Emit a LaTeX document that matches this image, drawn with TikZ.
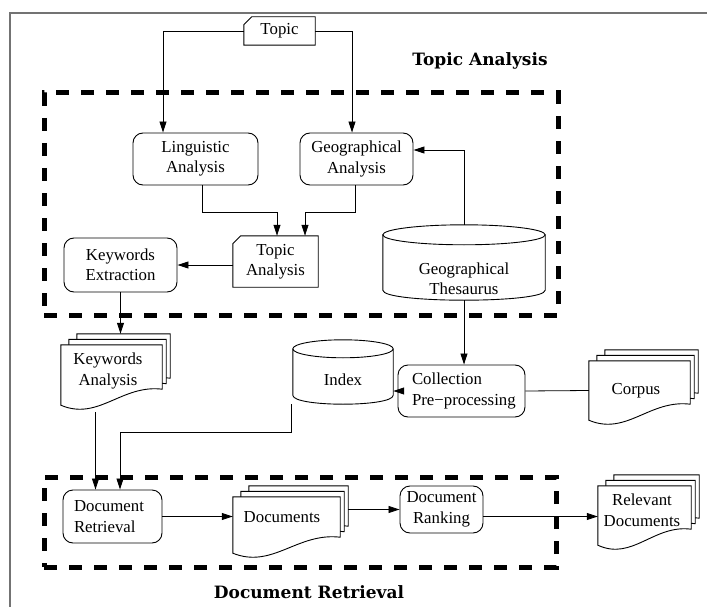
\documentclass[tikz,border=0pt]{standalone}
\usepackage{fontspec}
\setmainfont{Liberation Serif}
\newfontfamily\headfont{DejaVu Serif}
\usetikzlibrary{arrows.meta,calc,backgrounds}

\tikzset{
  every node/.style={font=\fontsize{16.8}{20.5}\selectfont},
  box/.style={draw, rounded corners=10pt, line width=0.9pt, align=center, inner sep=0pt},
  plain/.style={align=center, inner sep=0pt},
  link/.style={line width=0.8pt, -{Triangle[length=11pt,width=7pt]}},
  wire/.style={line width=0.8pt},
  outline/.style={line width=0.9pt},
  groupbox/.style={draw, line width=5pt, dash pattern=on 13pt off 12pt, inner sep=0pt},
  heading/.style={font=\headfont\bfseries\fontsize{17}{20}\selectfont},
  frame/.style={draw=black!55, line width=2pt},
}

% card with the top-left corner cut off
\newcommand\cardoutline[1]{%
  \draw[outline] (#1.south west) -- ($(#1.north west)+(0,8)$) -- ($(#1.north west)+(8,0)$)
    -- (#1.north east) -- (#1.south east) -- cycle;}

% drum (database) outline; #2 = half height of the rim ellipse
\newcommand\drumoutline[2]{%
  \draw[outline]
    ($(#1.north west)+(0,#2)$) -- ($(#1.south west)+(0,-#2)$)
    .. controls +(0,{4/3*#2}) and +(0,{4/3*#2}) .. ($(#1.south east)+(0,-#2)$)
    -- ($(#1.north east)+(0,#2)$);
  \draw[outline] let \p1=($(#1.east)-(#1.west)$) in
    ($(#1.north)+(0,#2)$) ellipse [x radius=0.5*\x1, y radius=#2pt];}

% one sheet of a document stack; #2/#3 shift the left/right edge
\newcommand\docsheet[3]{%
  \path ($(#1.south west)+(#2)$) coordinate (sheetL) ($(#1.south east)+(#3)$) coordinate (sheetR);
  \draw[outline, fill=white] ($(#1.north west)+(#2)$) -- ($(#1.north east)+(#3)$)
    -- ($(sheetR)+(0,-16)$)
    .. controls ($(sheetL)!0.6!(sheetR)+(0,-21)$) and ($(sheetL)!0.37!(sheetR)+(0,16)$) .. (sheetL)
    -- cycle;}
\newcommand\docstack[1]{%
  \docsheet{#1}{16,-11}{8,-11}\docsheet{#1}{8,-5.5}{4,-5.5}\docsheet{#1}{0,0}{0,0}}

\begin{document}
\begin{tikzpicture}[x=1pt,y=-1pt]
\useasboundingbox (0,0) rectangle (707,607);
\draw[frame] (707,13) -- (10,13) -- (10,607);

% group boxes and their titles
\node[groupbox, minimum width=514pt, minimum height=222pt] (taGroup) at (301,204) {};
\node[groupbox, minimum width=512pt, minimum height=90pt] (drGroup) at (300,522) {};
\node[heading] (taTitle) at (480,61) {Topic Analysis};
\node[heading] (drTitle) at (309,592) {Document Retrieval};

% topic analysis
\node[plain, minimum width=71pt, minimum height=28pt] (topic) at (279.5,31) {Topic};
\node[box, minimum width=125pt, minimum height=52pt] (ling) at (195.5,159) {Linguistic\\Analysis};
\node[box, minimum width=113pt, minimum height=52pt] (geo) at (356.5,159) {Geographical\\Analysis};
\node[plain, minimum width=85pt, minimum height=51pt] (tana) at (275.5,261.5) {Topic\\Analysis};
\node[box, minimum width=113pt, minimum height=54pt] (kext) at (120.5,265) {Keywords\\Extraction};
\node[plain, minimum width=162pt, minimum height=75pt] (thes) at (464,262.5) {};
\node[plain] (thesText) at (464,279) {Geographical\\Thesaurus};

% indexing
\node[box, align=left, text width=99pt, inner xsep=14pt, minimum height=52pt] (coll) at (461.5,391) {Collection\\Pre−processing};
\node[plain, minimum width=100pt, minimum height=64pt] (index) at (343,372) {};
\node[plain] (indexText) at (343,380) {Index};
\node[plain, minimum width=101pt, minimum height=60pt] (kana) at (111.5,375) {};
\node[plain] (kanaText) at (108,371) {Keywords\\Analysis};
\node[plain, minimum width=101pt, minimum height=59pt] (corpus) at (639.5,390.5) {};
\node[plain] (corpusText) at (636,391) {Corpus};

% document retrieval
\node[box, align=left, text width=77pt, inner xsep=11pt, minimum height=53pt] (dret) at (112.5,516.5) {Document\\Retrieval};
\node[plain, minimum width=107pt, minimum height=56pt] (docs) at (286.5,525) {};
\node[plain] (docsText) at (282,517) {Documents};
\node[box, minimum width=83pt, minimum height=47pt] (drank) at (441.5,509.5) {Document\\Ranking};
\node[plain, minimum width=93pt, minimum height=59pt] (rel) at (644.5,515.5) {};
\node[plain] (relText) at (642,510) {Relevant\\Documents};

\begin{scope}[on background layer]
  \cardoutline{topic}
  \cardoutline{tana}
  \drumoutline{thes}{10}
  \drumoutline{index}{9}
  \docstack{kana}
  \docstack{corpus}
  \docstack{docs}
  \docstack{rel}
\end{scope}

% connectors
\draw[link] (topic.west) -| ([xshift=-32.5pt]ling.north);
\draw[link] (topic.east) -| ([xshift=-4.5pt]geo.north);
\draw[link] ([xshift=7pt]ling.south) -- ++(0,27) -| ([xshift=1.5pt]tana.north);
\draw[link] ([xshift=-1.5pt]geo.south) -- ++(0,27) -| ([xshift=29.5pt]tana.north);
\draw[link] (thes.north) |- ([yshift=9pt]geo.east);
\draw[link] (tana.west |- kext.east) -- (kext.east);
\draw[link] (kext.south) -- ($(kext.south |- kana.north)+(0,-11)$);
\draw[link] (thes.south) -- (thes.south |- coll.north);
\draw[link] (coll.west) -- (coll.west -| index.east);
\draw[wire] (corpus.west) -- (coll.east);
\coordinate (kaOut) at ($(kana.south)+(-16,7)$);
\draw[link] (kaOut) -- (kaOut |- dret.north);
\coordinate (ixOut) at ($(index.south)+(-52,0)$);
\draw[link] (ixOut) -- ++(0,28) -| ([xshift=7.5pt]dret.north);
\draw[link] (dret.east) -- (dret.east -| docs.west);
\coordinate (docsOut) at ($(docs.east)+(8,0)$);
\draw[link] (drank.west -| docsOut) -- (drank.west);
\draw[link] ([yshift=-7pt]drank.east) -- ([yshift=-7pt]drank.east -| rel.west);
\end{tikzpicture}
\end{document}
